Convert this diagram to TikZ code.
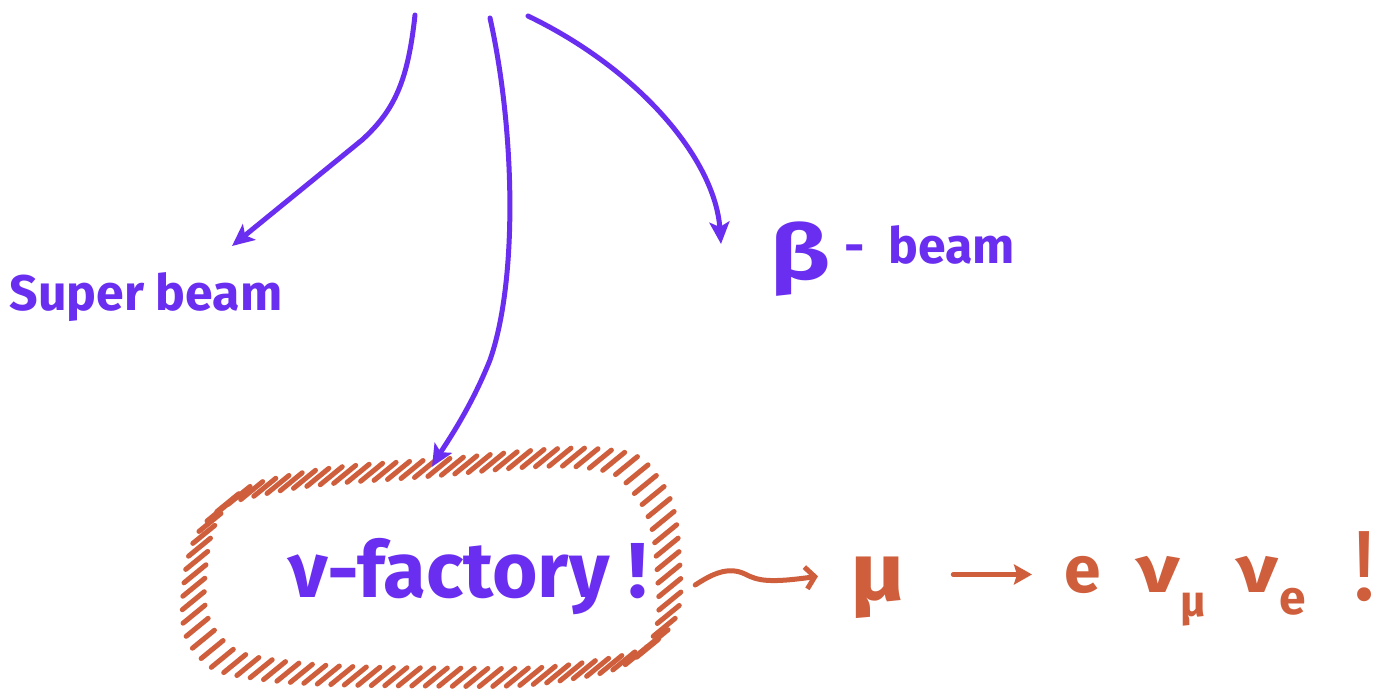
\documentclass[tikz,border=0pt]{standalone}
\usepackage{fontspec}
\setmainfont{Fira Sans}
\usetikzlibrary{arrows.meta,decorations.markings}
\definecolor{pen}{RGB}{106,46,240}
\definecolor{rust}{RGB}{207,95,60}
\begin{document}
\begin{tikzpicture}[x=1pt,y=-1pt,
  parrow/.style={draw=pen,line width=5pt,line cap=round,-{Stealth[length=22pt,width=20pt,inset=5pt]}},
  rarrow/.style={draw=rust,line width=5pt,line cap=round,-{Stealth[length=18pt,width=20pt,inset=3pt]}},
  squig/.style={draw=rust,line width=5pt,line cap=round,-{Straight Barb[length=9pt,width=22pt,line width=5pt]}},
  ptext/.style={text=pen,font=\bfseries,inner sep=0pt},
  rtext/.style={text=rust,font=\bfseries,inner sep=0pt},
  oval/.style={minimum width=472pt,minimum height=206pt,inner sep=0pt},
  hatch/.style={postaction={decorate},decoration={markings,
    mark=between positions 0 and 1 step 13.5pt with {\pgftransformresetnontranslations
      \draw[rust,line width=5pt,line cap=round] (-11pt,-9pt) -- (11pt,9pt);}}}]
\useasboundingbox (0,0) rectangle (1394,688);
\fill[white] (0,0) rectangle (1394,688);

% text nodes
\node[ptext,font=\bfseries\fontsize{50}{50}\selectfont] (sb) at (146,297) {Super beam};
\node[ptext,font=\bfseries\fontsize{50}{50}\selectfont,anchor=base west] (bb) at (770,263)
  {\raisebox{-16pt}{\fontsize{76}{76}\selectfont\scalebox{1.3}[1]{β}}\hspace{14pt}-\hspace{24pt}beam};
\node[oval] (nf) at (432,570) {};
\node[ptext,font=\bfseries\fontsize{78}{78}\selectfont,anchor=base west] (nft) at (288,597) {ν-factory !};

% hatched ring round the neutrino factory
\path[hatch] plot[smooth cycle,tension=0.7] coordinates {(194,585) (218,512) (290,482) (432,468) (590,458) (648,488) (668,560) (656,640) (570,672) (432,677) (270,670) (208,645)};

% start points
\coordinate (s1) at (415,15);
\coordinate (s2) at (490,18);
\coordinate (s3) at (528,16);
\coordinate (t1) at (232,246);
\coordinate (t3) at (721,244);

\draw[parrow] (s1) .. controls (408,80) and (395,110) .. (362,140) -- (t1);
\draw[parrow] (s2) .. controls (515,130) and (518,280) .. (490,360) .. controls (470,410) and (445,445) .. (nf.north);
\draw[parrow] (s3) .. controls (640,70) and (715,160) .. (t3);

% decay chain
\node[rtext,font=\bfseries\fontsize{82}{82}\selectfont,anchor=base west] (mu) at (850,600) {\scalebox{1.15}[1]{μ}};
\node[rtext,font=\bfseries\fontsize{66}{66}\selectfont,anchor=base west] (e) at (1064,592) {e};
\node[rtext,font=\bfseries\fontsize{66}{66}\selectfont,anchor=base west] (num) at (1136,592)
  {\scalebox{1.3}[1]{ν}\hspace{1pt}\raisebox{-24pt}{\fontsize{44}{44}\selectfont μ}};
\node[rtext,font=\bfseries\fontsize{66}{66}\selectfont,anchor=base west] (nue) at (1236,592)
  {\scalebox{1.25}[1]{ν}\hspace{1pt}\raisebox{-22pt}{\fontsize{48}{48}\selectfont e}};
\node[rtext,font=\fontsize{100}{100}\selectfont,anchor=base west] (ex) at (1352,600) {!};

\draw[squig] ([xshift=27pt,yshift=-15pt]nf.east) .. controls (712,574) and (728,566) .. (745,574) .. controls (758,581) and (770,583) .. ([xshift=-32pt,yshift=11pt]mu.west);
\draw[rarrow] ([xshift=48pt]mu.east |- e.west) -- ([xshift=-32pt]e.west);
\end{tikzpicture}
\end{document}
